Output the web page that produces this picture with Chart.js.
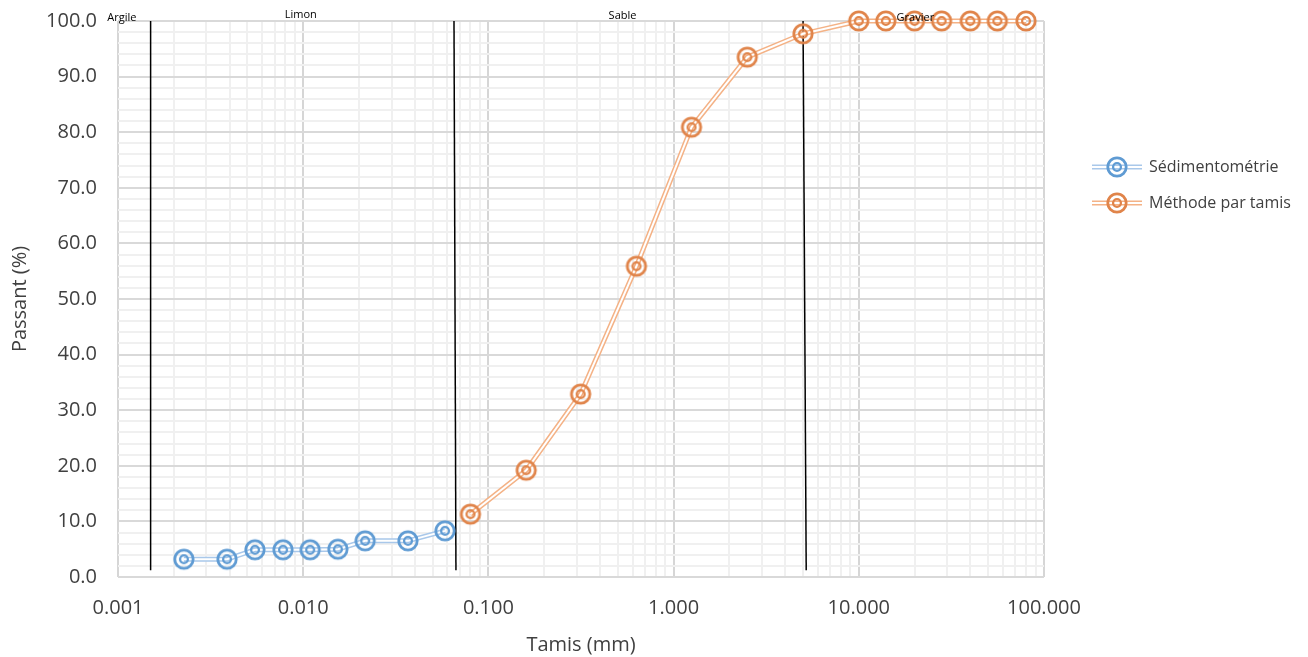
<!DOCTYPE html>
<html>
<head>
<meta charset="utf-8">
<script src="https://cdn.jsdelivr.net/npm/chart.js@4/dist/chart.umd.min.js"></script>
<style>
  html, body { margin: 0; padding: 0; background: #fff; }
</style>
</head>
<body>
<canvas id="chart" width="1308" height="657"></canvas>
<script>
// Sédimentométrie
const sedimX = [0.00227, 0.00388, 0.00549, 0.00778, 0.0109, 0.0154, 0.0216, 0.0368, 0.0583];
const sedimY = [3.2, 3.2, 4.9, 4.9, 4.9, 5.0, 6.5, 6.5, 8.3];
// Méthode par tamis
const tamisX = [0.08, 0.16, 0.315, 0.63, 1.25, 2.5, 5, 10, 14, 20, 28, 40, 56, 80];
const tamisY = [11.3, 19.2, 32.9, 55.9, 80.9, 93.5, 97.7, 100, 100, 100, 100, 100, 100, 100];
// limits between soil classes
const limitTopX = [0.0015, 0.0652, 5.0];
const limitBottomX = [0.0015, 0.0668, 5.2];
const limitTopY = 100;
const limitBottomY = 1.2;
// class names at the top
const zoneNames = ['Argile', 'Limon', 'Sable', 'Gravier'];
const zoneX = [0.00105, 0.0097, 0.53, 20.2];
const zoneY = [100.5, 101.1, 100.9, 100.5];

const seriesNames = ['Sédimentométrie', 'Méthode par tamis'];
const markerColors = ['#5f9bd3', '#e0844a'];
const lineColors = ['#a9c8ea', '#f4b286'];

const FONT = "'Open Sans', 'Noto Sans', sans-serif";
const TEXT = '#404040';

const isDecade = (v) => Math.abs(Math.log10(v) - Math.round(Math.log10(v))) < 1e-9;

const ringMarker = (color) => {
    const c = document.createElement('canvas');
    c.width = 28;
    c.height = 28;
    const ctx = c.getContext('2d');
    ctx.strokeStyle = color;
    ctx.lineWidth = 2.8;
    ctx.beginPath();
    ctx.arc(14, 14, 9.2, 0, Math.PI * 2);
    ctx.stroke();
    ctx.lineWidth = 2.3;
    ctx.beginPath();
    ctx.arc(14, 14, 3.9, 0, Math.PI * 2);
    ctx.stroke();
    return c;
};
const markers = markerColors.map(ringMarker);

const toPoints = (xs, ys) => xs.map((x, i) => ({ x, y: ys[i] }));

// double line = wide light stroke + thin white stroke on top
const doubleLine = (pts, i) => [
    { data: pts, borderColor: lineColors[i], borderWidth: 5, pointRadius: 0, order: 5, clip: false },
    { data: pts, borderColor: '#ffffff', borderWidth: 2, pointRadius: 0, order: 4, clip: false },
];
const markerSet = (pts, i) => ({
    data: pts, showLine: false, pointStyle: markers[i], pointRadius: 10, order: 1, clip: false,
});

const sedimPts = toPoints(sedimX, sedimY);
const tamisPts = toPoints(tamisX, tamisY);

const limitSets = limitTopX.map((x, i) => ({
    data: [{ x, y: limitTopY }, { x: limitBottomX[i], y: limitBottomY }],
    borderColor: '#000000', borderWidth: 1.5, pointRadius: 0, order: 10,
}));

const overlay = {
    id: 'overlay',
    afterDraw(chart) {
        const { ctx, chartArea, scales } = chart;
        ctx.save();
        // class names
        ctx.fillStyle = '#000';
        ctx.font = `11px ${FONT}`;
        ctx.textAlign = 'center';
        ctx.textBaseline = 'middle';
        zoneNames.forEach((name, i) => {
            ctx.fillText(name, scales.x.getPixelForValue(zoneX[i]), scales.y.getPixelForValue(zoneY[i]));
        });
        // legend
        const x0 = chartArea.right + 48;
        seriesNames.forEach((name, i) => {
            const y = 167 + i * 36;
            ctx.lineWidth = 5;
            ctx.strokeStyle = lineColors[i];
            ctx.beginPath(); ctx.moveTo(x0, y); ctx.lineTo(x0 + 50, y); ctx.stroke();
            ctx.lineWidth = 2;
            ctx.strokeStyle = '#fff';
            ctx.beginPath(); ctx.moveTo(x0, y); ctx.lineTo(x0 + 50, y); ctx.stroke();
            ctx.drawImage(ringMarker(markerColors[i]), x0 + 25 - 14, y - 14);
            ctx.fillStyle = TEXT;
            ctx.font = `16px ${FONT}`;
            ctx.textAlign = 'left';
            ctx.fillText(name, x0 + 57, y);
        });
        ctx.restore();
    }
};

new Chart(document.getElementById('chart'), {
    type: 'line',
    data: {
        datasets: [
            ...limitSets,
            ...doubleLine(sedimPts, 0),
            ...doubleLine(tamisPts, 1),
            markerSet(sedimPts, 0),
            markerSet(tamisPts, 1),
        ]
    },
    options: {
        responsive: false,
        animation: false,
        layout: { padding: { top: 21, right: 264, left: 0, bottom: 0 } },
        elements: { line: { tension: 0 } },
        plugins: {
            legend: { display: false },
            tooltip: { enabled: false },
        },
        scales: {
            x: {
                type: 'logarithmic',
                min: 0.001,
                max: 100,
                afterBuildTicks: (scale) => {
                    const t = [];
                    for (let e = -3; e <= 2; e++) {
                        for (let m = 1; m <= 9; m++) {
                            const v = +(m * Math.pow(10, e)).toPrecision(3);
                            if (v > 100.0001) break;
                            t.push({ value: v });
                        }
                    }
                    scale.ticks = t;
                },
                afterFit: (scale) => {
                    scale.height = 80;
                    scale.paddingLeft = 0;
                    scale.paddingRight = 0;
                },
                ticks: {
                    autoSkip: false,
                    maxRotation: 0,
                    padding: 19,
                    color: TEXT,
                    font: { family: FONT, size: 20 },
                    callback: (v) => isDecade(v) ? v.toFixed(3) : '',
                },
                grid: {
                    drawTicks: false,
                    lineWidth: 2,
                    color: (c) => isDecade(c.tick.value) ? '#d6d6d6' : '#f0f0f0',
                },
                border: { display: false },
                title: {
                    display: true,
                    text: 'Tamis (mm)',
                    color: TEXT,
                    font: { family: FONT, size: 20 },
                    padding: { top: 0, bottom: 0 },
                },
            },
            y: {
                min: 0,
                max: 100,
                afterFit: (scale) => {
                    scale.width = 118;
                    scale.paddingTop = 0;
                    scale.paddingBottom = 0;
                },
                ticks: {
                    stepSize: 2,
                    autoSkip: false,
                    padding: 21,
                    color: TEXT,
                    font: { family: FONT, size: 20 },
                    callback: (v) => v % 10 === 0 ? v.toFixed(1) : '',
                },
                grid: {
                    drawTicks: false,
                    lineWidth: 2,
                    color: (c) => c.tick.value % 10 === 0 ? '#d9d9d9' : '#f0f0f0',
                },
                border: { display: false },
                title: {
                    display: true,
                    text: 'Passant (%)',
                    color: TEXT,
                    font: { family: FONT, size: 20 },
                    padding: { top: 8, bottom: 0 },
                },
            },
        },
    },
    plugins: [overlay],
});
</script>
</body>
</html>
